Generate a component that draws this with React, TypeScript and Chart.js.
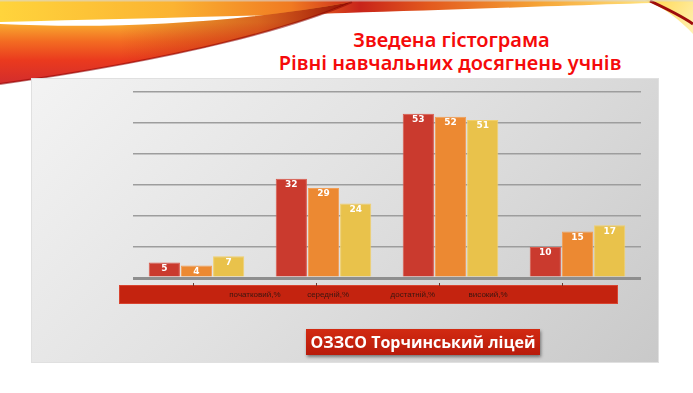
import React, { useEffect, useRef } from "react";
import { Chart, registerables } from "chart.js";

Chart.register(...registerables);

const categories = ["початковий,%", "середній,%", "достатній,%", "високий,%"];
const seriesNames = ["Ряд 1", "Ряд 2", "Ряд 3"];
const series1 = [5, 32, 53, 10];
const series2 = [4, 29, 52, 15];
const series3 = [7, 24, 51, 17];
const yMin = 0;
const yMax = 60;
const yStep = 10;

const titleLine1 = "Зведена гістограма";
const titleLine2 = "Рівні навчальних досягнень учнів";
const schoolName = "ОЗЗСО Торчинський ліцей";

const fills = ["#CA3A2E", "#EC8932", "#E9C24B"];
const borders = ["#DA5A4C", "#F29E55", "#F1D06C"];

const overlayPlugin = {
  id: "overlay",
  afterDraw(chart: any) {
    const { ctx, chartArea: a } = chart;
    const w = a.right - a.left;
    ctx.save();
    // category band
    const y0 = a.bottom + 7;
    ctx.fillStyle = "#C4230F";
    ctx.fillRect(a.left - 14, y0, w - 9, 19);
    ctx.strokeStyle = "rgba(230,90,70,0.6)";
    ctx.lineWidth = 1;
    ctx.strokeRect(a.left - 14 + 0.5, y0 + 0.5, w - 10, 18);
    // small ticks
    ctx.fillStyle = "#6a3a30";
    for (let i = 0; i < chart.data.labels.length; i++) {
      const x = a.left + w * (0.118 + 0.242 * i);
      ctx.fillRect(Math.round(x), y0 - 2, 1, 3);
    }
    // category labels
    const pos = [0.24, 0.384, 0.551, 0.699];
    ctx.fillStyle = "#3a1610";
    ctx.font = "8px 'Liberation Sans', Arial, sans-serif";
    ctx.textAlign = "center";
    ctx.textBaseline = "middle";
    chart.data.labels.forEach((l: string, i: number) => {
      ctx.fillText(l, a.left + pos[i] * w, y0 + 10);
    });
    // value labels
    ctx.fillStyle = "#ffffff";
    ctx.font = "bold 9px 'DejaVu Sans', sans-serif";
    chart.data.datasets.forEach((ds: any, di: number) => {
      const meta = chart.getDatasetMeta(di);
      meta.data.forEach((bar: any, i: number) => {
        ctx.fillText(String(ds.data[i]), bar.x, bar.y + 6);
      });
    });
    ctx.restore();
  },
};

function Swoosh() {
  return (
    <svg
      width={693}
      height={100}
      style={{ position: "absolute", left: 0, top: 0 }}
      viewBox="0 0 693 100"
    >
      <defs>
        <linearGradient id="gB" x1="0" y1="0" x2="693" y2="0" gradientUnits="userSpaceOnUse">
          <stop offset="0" stopColor="#FFD43C" />
          <stop offset="0.25" stopColor="#FBB332" />
          <stop offset="0.42" stopColor="#F07A22" />
          <stop offset="0.52" stopColor="#C8241A" />
          <stop offset="0.62" stopColor="#E35A1E" />
          <stop offset="0.78" stopColor="#F6A536" />
          <stop offset="0.93" stopColor="#FFE07A" />
          <stop offset="1" stopColor="#FFE890" />
        </linearGradient>
        <linearGradient id="gA" x1="0" y1="22" x2="0" y2="86" gradientUnits="userSpaceOnUse">
          <stop offset="0" stopColor="#F9B030" />
          <stop offset="0.3" stopColor="#F36C22" />
          <stop offset="0.6" stopColor="#EA3A1E" />
          <stop offset="1" stopColor="#D02B2E" />
        </linearGradient>
        <linearGradient id="gA2" x1="120" y1="0" x2="350" y2="0" gradientUnits="userSpaceOnUse">
          <stop offset="0" stopColor="#A00808" stopOpacity="0" />
          <stop offset="0.6" stopColor="#B00A0A" stopOpacity="0.45" />
          <stop offset="1" stopColor="#8A0000" stopOpacity="0.9" />
        </linearGradient>
        <linearGradient id="gC" x1="650" y1="0" x2="693" y2="30" gradientUnits="userSpaceOnUse">
          <stop offset="0" stopColor="#FFD850" />
          <stop offset="1" stopColor="#FFF0B0" />
        </linearGradient>
      </defs>
      <path d="M0,0 L693,0 L693,2 C600,4 450,10 345,13 C250,16 120,19 0,22 Z" fill="url(#gB)" />
      <path d="M0,24 C110,29 230,24 352,2 C295,27 185,58 0,84 Z" fill="url(#gA)" />
      <path d="M0,24 C110,29 230,24 352,2 C295,27 185,58 0,84 Z" fill="url(#gA2)" />
      <path d="M352,2 C295,27 185,58 0,84" fill="none" stroke="#8B0000" strokeOpacity="0.55" strokeWidth="2" />
      <path d="M645,0 L693,0 L693,34 C680,20 665,8 645,0 Z" fill="url(#gC)" />
      <path d="M650,1 C665,8 680,15 693,24" fill="none" stroke="#9E0C0C" strokeWidth="3" />
      <rect x="0" y="0" width="693" height="1.5" fill="#d8d8d8" opacity="0.6" />
    </svg>
  );
}

export default function App() {
  const canvasRef = useRef<HTMLCanvasElement | null>(null);

  useEffect(() => {
    document.body.style.margin = "0";
    const canvas = canvasRef.current;
    if (!canvas) return;
    const datasets = [series1, series2, series3].map((d, i) => ({
      label: seriesNames[i],
      data: d,
      backgroundColor: fills[i],
      borderColor: borders[i],
      borderWidth: 1,
      barPercentage: 0.97,
      categoryPercentage: 0.76,
    }));
    const chart = new Chart(canvas, {
      type: "bar",
      data: { labels: categories, datasets },
      options: {
        animation: false,
        responsive: false,
        maintainAspectRatio: false,
        layout: { padding: { left: 133, right: 52, top: 92, bottom: 115 } },
        plugins: {
          legend: { display: false },
          tooltip: { enabled: false },
          title: { display: false },
        },
        scales: {
          x: { display: false },
          y: {
            min: yMin,
            max: yMax,
            ticks: { display: false, stepSize: yStep },
            border: { display: false },
            grid: {
              drawTicks: false,
              color: (c: any) => (c.tick && c.tick.value === 0 ? "#8e8e8e" : "#9d9d9d"),
              lineWidth: (c: any) => (c.tick && c.tick.value === 0 ? 3 : 1.6),
            },
          },
        },
      },
      plugins: [overlayPlugin],
    });
    return () => chart.destroy();
  }, []);

  return (
    <div
      style={{
        position: "fixed",
        left: 0,
        top: 0,
        width: 693,
        height: 393,
        background: "#ffffff",
        overflow: "hidden",
      }}
    >
      <Swoosh />
      <div
        style={{
          position: "absolute",
          left: 31,
          top: 78,
          width: 628,
          height: 285,
          background: "linear-gradient(135deg, #f3f3f3 0%, #e2e2e2 45%, #c9c9c9 100%)",
          boxShadow: "inset 0 0 0 1px #e0e0e0",
        }}
      />
      <div
        style={{
          position: "absolute",
          left: 200,
          width: 500,
          top: 28,
          textAlign: "center",
          color: "#F50A0A",
          fontFamily: "'Noto Sans', sans-serif",
          fontWeight: 600,
          fontSize: 20,
          lineHeight: "23px",
        }}
      >
        <div style={{ paddingLeft: 3 }}>{titleLine1}</div>
        <div>{titleLine2}</div>
      </div>
      <canvas
        ref={canvasRef}
        width={693}
        height={393}
        style={{ position: "absolute", left: 0, top: 0, width: 693, height: 393 }}
      />
      <div
        style={{
          position: "absolute",
          left: 306,
          top: 329,
          width: 234,
          height: 26,
          background: "linear-gradient(#D22A12, #B81B0B)",
          boxShadow: "1px 2px 3px rgba(0,0,0,0.45)",
          color: "#ffffff",
          fontFamily: "'Open Sans', sans-serif",
          fontWeight: 700,
          fontSize: 16,
          lineHeight: "26px",
          textAlign: "center",
          whiteSpace: "nowrap",
        }}
      >
        {schoolName}
      </div>
    </div>
  );
}
